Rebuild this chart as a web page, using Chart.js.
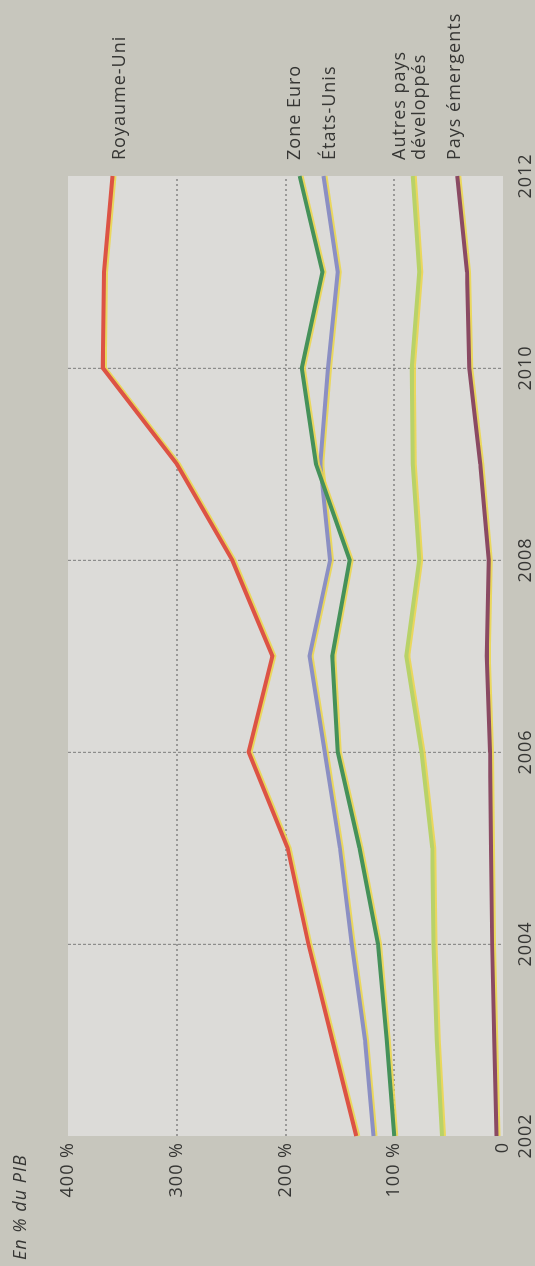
<!DOCTYPE html>
<html lang="fr">
<head>
<meta charset="utf-8">
<title>Dette en % du PIB</title>
<script src="https://cdn.jsdelivr.net/npm/chart.js@4/dist/chart.umd.min.js"></script>
<style>
  html, body { margin: 0; padding: 0; width: 535px; height: 1266px; overflow: hidden; background: #c7c6bd; }
  /* the chart is laid out landscape, then turned a quarter turn counter-clockwise */
  #wrap { position: absolute; left: 0; top: 0; width: 1266px; height: 535px;
          transform-origin: 0 0; transform: translate(0, 1266px) rotate(-90deg); }
  canvas { display: block; }
</style>
</head>
<body>
<div id="wrap"><canvas id="c" width="1266" height="535"></canvas></div>
<script>
// Années
const years = ['2002', '2003', '2004', '2005', '2006', '2007', '2008', '2009', '2010', '2011', '2012'];

// Séries, en % du PIB
const royaumeUni      = [135, 157, 179, 198, 234, 212, 249, 300, 368, 367, 359];
const zoneEuro        = [100, 107, 115, 132, 152, 157, 141, 172, 185, 166, 187];
const etatsUnis       = [119, 127, 139, 150, 164, 178, 159, 168, 161, 152, 165];
const autresPaysDev   = [56, 61, 64, 65, 75, 89, 77, 83, 84, 77, 83];
const paysEmergents   = [6, 8, 10, 11, 12, 15, 13, 21, 31, 33, 42];

// Graduations de l'axe des valeurs
const valueTicks = [0, 100, 200, 300, 400];
const valueGrid = [100, 200, 300];

const seriesNames = ['Royaume-Uni', 'Zone Euro', 'États-Unis', ['Autres pays', 'développés'], 'Pays émergents'];
const seriesColors = ['#dc5345', '#45915a', '#8b8fc3', '#b8d269', '#8a4a63'];
const seriesData = [royaumeUni, zoneEuro, etatsUnis, autresPaysDev, paysEmergents];
// small vertical nudges so the end labels don't collide
const labelNudge = [7, -5, 6, -3, -2];

const FONT = "'Open Sans', 'DejaVu Sans', sans-serif";
const TEXT = '#363634';

const plotBackground = {
  id: 'plotBackground',
  beforeDraw(chart) {
    const { ctx, chartArea: a } = chart;
    ctx.save();
    ctx.fillStyle = '#dcdbd8';
    ctx.fillRect(a.left, a.top, a.right - a.left, a.bottom - a.top);
    ctx.restore();
    ctx.letterSpacing = '1px';
  }
};

// slight yellow misregistration edge along each line
const inkFringe = {
  id: 'inkFringe',
  beforeDatasetDraw(chart) {
    const ctx = chart.ctx;
    ctx.save();
    ctx.shadowColor = 'rgba(236, 214, 72, 0.85)';
    ctx.shadowOffsetX = 0;
    ctx.shadowOffsetY = 2;
    ctx.shadowBlur = 0;
  },
  afterDatasetDraw(chart) {
    chart.ctx.restore();
  }
};

const endLabels = {
  id: 'endLabels',
  afterDatasetsDraw(chart) {
    const { ctx, chartArea: a, scales } = chart;
    ctx.save();
    ctx.letterSpacing = '1px';
    ctx.fillStyle = TEXT;
    ctx.font = `18px ${FONT}`;
    ctx.textAlign = 'left';
    ctx.textBaseline = 'middle';
    chart.data.datasets.forEach((ds, i) => {
      const last = ds.data[ds.data.length - 1];
      const y = scales.y.getPixelForValue(last) + labelNudge[i];
      const x = a.right + 16;
      const lines = Array.isArray(seriesNames[i]) ? seriesNames[i] : [seriesNames[i]];
      const lh = 20;
      const y0 = y - (lines.length - 1) * lh / 2;
      lines.forEach((t, k) => ctx.fillText(t, x, y0 + k * lh));
    });
    // unit caption
    ctx.font = `italic 18px ${FONT}`;
    ctx.fillText('En % du PIB', 6, 21);
    ctx.restore();
  }
};

new Chart(document.getElementById('c'), {
  type: 'line',
  data: {
    labels: years,
    datasets: seriesData.map((d, i) => ({
      label: Array.isArray(seriesNames[i]) ? seriesNames[i].join(' ') : seriesNames[i],
      data: d,
      borderColor: seriesColors[i],
      borderWidth: 4,
      pointRadius: 0,
      tension: 0,
      fill: false
    }))
  },
  options: {
    responsive: false,
    devicePixelRatio: 1,
    animation: false,
    layout: { padding: { top: 68, right: 176, left: 0, bottom: 0 } },
    plugins: { legend: { display: false }, tooltip: { enabled: false }, title: { display: false } },
    scales: {
      x: {
        type: 'category',
        offset: false,
        afterFit(s) { s.height = 32; },
        grid: {
          drawTicks: false,
          lineWidth: 1.2,
          color: c => (c.index % 2 === 0 && c.index > 0 && c.index < years.length - 1) ? 'rgba(115,115,115,0.75)' : 'rgba(0,0,0,0)'
        },
        border: { display: false, dash: [3, 2] },
        ticks: {
          autoSkip: false,
          maxRotation: 0,
          padding: 12,
          color: TEXT,
          font: { family: FONT, size: 18 },
          callback: (v, i) => (i % 2 === 0 ? years[i] : '')
        }
      },
      y: {
        min: valueTicks[0],
        max: valueTicks[valueTicks.length - 1],
        afterFit(s) { s.width = 130; },
        afterBuildTicks(s) { s.ticks = valueTicks.map(v => ({ value: v })); },
        grid: {
          drawTicks: false,
          lineWidth: 2,
          color: c => valueGrid.includes(c.tick && c.tick.value) ? 'rgba(125,125,125,0.7)' : 'rgba(0,0,0,0)'
        },
        border: { display: false, dash: [2, 3] },
        ticks: {
          padding: 6,
          color: TEXT,
          font: { family: FONT, size: 18 },
          callback: v => (v === 0 ? '0' : v + ' %')
        }
      }
    }
  },
  plugins: [plotBackground, inkFringe, endLabels]
});
</script>
</body>
</html>
